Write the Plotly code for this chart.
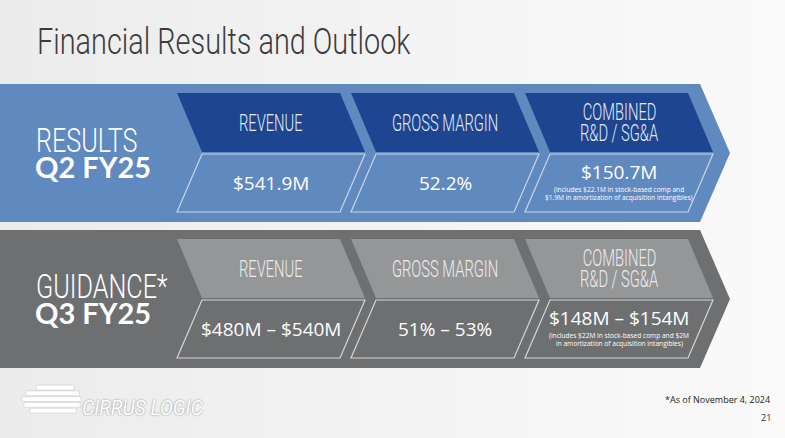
import math
import plotly.graph_objects as go

# ---- data ----
categories = ["REVENUE", "GROSS MARGIN", "COMBINED<br>R&D / SG&A"]
results_values = ["$541.9M", "52.2%", "$150.7M"]
guidance_values = ["$480M – $540M", "51% – 53%", "$148M – $154M"]
results_note = "(includes $22.1M in stock-based comp and<br>$1.9M in amortization of acquisition intangibles)"
guidance_note = "(includes $22M in stock-based comp and $2M<br>in amortization of acquisition intangibles)"
row_titles = ["RESULTS", "GUIDANCE*"]
row_periods = ["Q2 FY25", "Q3 FY25"]
title_text = "Financial Results and Outlook"
footnote_text = "*As of November 4, 2024"
page_number = "21"
logo_text = "CIRRUS LOGIC"

# ---- layout constants ----
W, H = 785, 438
chev_x0 = [177, 351, 525]
TOP_LEN, SLANT = 163, 25
bands = [
    dict(y0=84, band="#6089bf", dark="#1d4590", line="#c9d6ea", txt="#e4eaf4"),
    dict(y0=230, band="#6e6f71", dark="#959698", line="#d6d6d6", txt="#ececec"),
]
COND = "Roboto, sans-serif"          # horizontally condensed by post-script
BODY = "Open Sans, Noto Sans, sans-serif"
BOLD = "Lato, Open Sans, sans-serif"

fig = go.Figure()
shapes = []
ann = []

# background: soft horizontal gradient (light grey -> near white)
NSTRIP = 24
for k in range(NSTRIP):
    t = k / (NSTRIP - 1)
    v = int(round(236 + (250 - 236) * t))
    shapes.append(dict(type="rect", x0=W * k / NSTRIP, x1=W * (k + 1) / NSTRIP + 1, y0=0, y1=H,
                       fillcolor=f"rgb({v},{v},{v})", line=dict(width=0), layer="below"))

for bi, b in enumerate(bands):
    y0 = b["y0"]
    yb = y0 + 138
    ym = y0 + 69
    shapes.append(dict(type="path",
                       path=f"M 0,{y0} L 700,{y0} L 730,{ym} L 700,{yb} L 0,{yb} Z",
                       fillcolor=b["band"], line=dict(width=0), layer="below"))
    ct, cm, cb = y0 + 9, y0 + 68, y0 + 128
    vals = results_values if bi == 0 else guidance_values
    note = results_note if bi == 0 else guidance_note
    for i, x0 in enumerate(chev_x0):
        shapes.append(dict(type="path",
                           path=(f"M {x0},{ct} L {x0+TOP_LEN},{ct} L {x0+TOP_LEN+SLANT},{cm} "
                                 f"L {x0+SLANT},{cm} Z"),
                           fillcolor=b["dark"], line=dict(width=0)))
        shapes.append(dict(type="path",
                           path=(f"M {x0+SLANT},{cm+2} L {x0+TOP_LEN+SLANT},{cm+2} "
                                 f"L {x0+TOP_LEN},{cb} L {x0},{cb} Z"),
                           fillcolor=b["band"], line=dict(color=b["line"], width=1.2)))
        cx = x0 + 94
        hfont = dict(family=COND, size=23, weight=300, color=b["txt"])
        if "<br>" in categories[i]:
            l1, l2 = categories[i].split("<br>")
            ann.append(dict(x=cx, y=ct + 19, text=l1, font=hfont, name="cond:0.64"))
            ann.append(dict(x=cx, y=ct + 40, text=l2, font=hfont, name="cond:0.64"))
        else:
            ann.append(dict(x=cx, y=ct + 30, text=categories[i], font=hfont, name="cond:0.64"))
        if i == 2:
            ann.append(dict(x=cx, y=cm + 20, text=vals[i],
                            font=dict(family=BODY, size=19, color="#ffffff")))
            l1, l2 = note.split("<br>")
            ann.append(dict(x=cx, y=cm + 37, text=l1,
                            font=dict(family=BODY, size=6.6, color="#ffffff")))
            ann.append(dict(x=cx, y=cm + 45, text=l2,
                            font=dict(family=BODY, size=6.6, color="#ffffff")))
        else:
            ann.append(dict(x=cx, y=cm + 31, text=vals[i],
                            font=dict(family=BODY, size=19, color="#ffffff")))
    ann.append(dict(x=34, y=y0 + 56, text=row_titles[bi], xanchor="left", name="cond:0.74",
                    font=dict(family=COND, size=34, weight=300, color="#ffffff")))
    ann.append(dict(x=33, y=y0 + 82, text=row_periods[bi], xanchor="left",
                    font=dict(family=BOLD, size=29, weight="bold", color="#ffffff")))

# title
ann.append(dict(x=35, y=41, text=title_text, xanchor="left", name="cond:0.78",
                font=dict(family=COND, size=37, weight=300, color="#3c3c3c")))
# footnotes
ann.append(dict(x=772, y=399, text=footnote_text, xanchor="right",
                font=dict(family=BODY, size=9, color="#222222")))
ann.append(dict(x=773, y=417, text=page_number, xanchor="right",
                font=dict(family=BODY, size=9, color="#333333")))

# logo: striped disc
LCX, LCY, LR = 66, 400, 15
stripe_rows = [(387.5, 36), (393.3, 26), (399.1, 22), (404.9, 24), (410.7, 30)]
for (yy, xa) in stripe_rows:
    dy = yy - LCY
    xb = LCX + math.sqrt(max(LR * LR - dy * dy, 0))
    shapes.append(dict(type="path",
                       path=f"M {xa},{yy-2.4} L {xb},{yy-2.4} L {xb},{yy+2.4} L {xa},{yy+2.4} Z",
                       fillcolor="#ffffff", line=dict(color="#cfcfcf", width=0.6)))
ann.append(dict(x=80, y=408, text=logo_text, xanchor="left", name="cond:0.92",
                font=dict(family=COND, size=21, weight=400, style="italic", color="#ffffff",
                          shadow="0px 0px 2px #7a7a7a")))

for a in ann:
    a.setdefault("xref", "x")
    a.setdefault("yref", "y")
    a.setdefault("showarrow", False)
    a.setdefault("xanchor", "center")
    a.setdefault("yanchor", "middle")

fig.update_layout(
    width=W, height=H, margin=dict(l=0, r=0, t=0, b=0),
    paper_bgcolor="#f0f0f0", plot_bgcolor="#f0f0f0",
    xaxis=dict(range=[0, W], visible=False, fixedrange=True),
    yaxis=dict(range=[H, 0], visible=False, fixedrange=True),
    shapes=shapes, annotations=ann, showlegend=False,
)

post = """
document.body.style.margin='0';
var gd = document.getElementById('{plot_id}');
var anns = gd.layout.annotations || [];
anns.forEach(function(a, i){
  var nm = a.name || '';
  if (nm.indexOf('cond:') !== 0) return;
  var f = parseFloat(nm.slice(5));
  var g = gd.querySelector('.annotation[data-index="' + i + '"]');
  if (!g) return;
  var t = g.querySelector('text');
  if (!t) return;
  var b0 = t.getBBox();
  var w = t.getComputedTextLength();
  t.setAttribute('textLength', (w * f).toFixed(1));
  t.setAttribute('lengthAdjust', 'spacingAndGlyphs');
  var b1 = t.getBBox();
  var dx = 0;
  if (a.xanchor === 'left') dx = b0.x - b1.x;
  else if (a.xanchor === 'right') dx = (b0.x + b0.width) - (b1.x + b1.width);
  if (dx) {
    var tr = t.getAttribute('transform') || '';
    t.setAttribute('transform', tr + ' translate(' + dx.toFixed(1) + ',0)');
  }
});
"""
fig.write_html("out.html", post_script=post, config={"displayModeBar": False})
